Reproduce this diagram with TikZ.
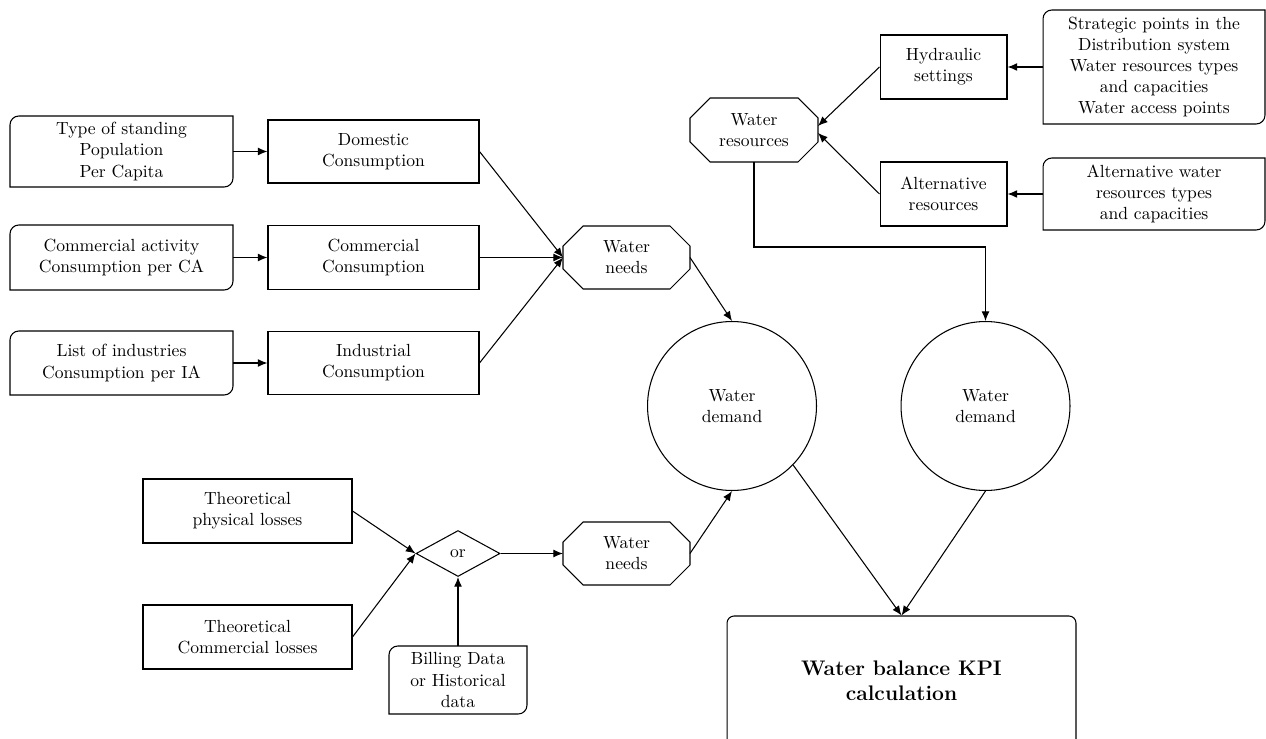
\documentclass[tikz,border=0pt]{standalone}
\usetikzlibrary{arrows.meta,shapes.geometric,calc}
\newcommand\octoborder[1]{%
  \draw[line width=0.6pt] ([xshift=4mm]#1.north west) -- ([xshift=-4mm]#1.north east) -- ([yshift=-4mm]#1.north east) -- ([yshift=4mm]#1.south east) -- ([xshift=-4mm]#1.south east) -- ([xshift=4mm]#1.south west) -- ([yshift=4mm]#1.south west) -- ([yshift=-4mm]#1.north west) -- cycle;}
\newcommand\databorder[1]{%
  \draw[line width=0.6pt,rounded corners=5pt,line cap=rect] (#1.south west) -- (#1.north west) -- (#1.north east) (#1.north east) -- (#1.south east) -- (#1.south west);}
\begin{document}
\begin{tikzpicture}[x=0.02cm,y=-0.02cm,
  box/.style={draw,line width=0.6pt,align=center,inner sep=2pt},
  data/.style={align=center,inner sep=2pt,outer sep=0pt},
  oct/.style={align=center,inner sep=0pt,outer sep=0pt,minimum width=2.54cm,minimum height=1.26cm},
  wd/.style={draw,circle,line width=0.6pt,align=center,minimum size=3.38cm},
  arr/.style={line width=0.6pt,-{Latex[length=5.5pt,width=4.5pt]}}]
\useasboundingbox (0,0) rectangle (1266,739);
% left data column
\node[data,minimum width=4.46cm,minimum height=1.42cm] (tp) at (121.5,151.5) {Type of standing\\Population\\Per Capita};
\node[data,minimum width=4.46cm,minimum height=1.30cm] (ca) at (121.5,257.5) {Commercial activity\\Consumption per CA};
\node[data,minimum width=4.46cm,minimum height=1.28cm] (li) at (121.5,363) {List of industries\\Consumption per IA};
% consumption boxes
\node[box,minimum width=4.22cm,minimum height=1.26cm] (dc) at (373.5,151.5) {Domestic\\Consumption};
\node[box,minimum width=4.22cm,minimum height=1.28cm] (cc) at (373.5,257.5) {Commercial\\Consumption};
\node[box,minimum width=4.22cm,minimum height=1.26cm] (ic) at (373.5,363) {Industrial\\Consumption};
% octagons
\node[oct] (wn1) at (626.5,257.5) {Water\\needs};
\node[oct] (wn2) at (626.5,553.5) {Water\\needs};
\node[oct,minimum width=2.56cm,minimum height=1.28cm] (wr) at (754,130) {Water\\resources};
% top right
\node[box,minimum width=2.54cm,minimum height=1.28cm] (hs) at (943.5,67) {Hydraulic\\settings};
\node[box,minimum width=2.54cm,minimum height=1.28cm] (ar) at (943.5,194) {Alternative\\resources};
\node[data,minimum width=4.44cm,minimum height=2.28cm] (sp) at (1154,67) {Strategic points in the\\Distribution system\\Water resources types\\and capacities\\Water access points};
\node[data,minimum width=4.44cm,minimum height=1.44cm] (aw) at (1154,194) {Alternative water\\resources types\\and capacities};
% circles
\node[wd] (wd1) at (732,406) {Water\\demand};
\node[wd] (wd2) at (985.5,406) {Water\\demand};
% losses
\node[box,minimum width=4.18cm,minimum height=1.28cm] (tpl) at (247.5,511) {Theoretical\\physical losses};
\node[box,minimum width=4.18cm,minimum height=1.28cm] (tcl) at (247.5,637) {Theoretical\\Commercial losses};
\node[draw,diamond,line width=0.6pt,inner sep=0pt,minimum width=1.68cm,minimum height=0.92cm] (or) at (458,553.5) {or};
\node[data,minimum width=2.76cm,minimum height=1.36cm] (bd) at (458,680) {Billing Data\\or Historical\\data};
% KPI
\node[draw,line width=0.6pt,rounded corners=4pt,align=center,minimum width=6.98cm,minimum height=2.6cm,font=\large\bfseries] (kpi) at (901.5,681) {Water balance KPI\\calculation};
% borders
\foreach \n in {tp,ca,li,sp,aw,bd} {\databorder{\n}}
\foreach \n in {wn1,wn2,wr} {\octoborder{\n}}
% connectors
\draw[arr] (tp.east) -- (dc.west);
\draw[arr] (ca.east) -- (cc.west);
\draw[arr] (li.east) -- (ic.west);
\draw[arr] (dc.east) -- (wn1.west);
\draw[arr] (cc.east) -- (wn1.west);
\draw[arr] (ic.east) -- (wn1.west);
\draw[arr] (wn1.east) -- (wd1.north);
\draw[arr] (wn2.east) -- (wd1.south);
\draw[arr] (wd1.-44) -- (kpi.north);
\draw[arr] (wd2.south) -- (kpi.north);
\draw[arr] (wr.south) -- ([yshift=-1.7cm]wr.south) -| (wd2.north);
\draw[arr] (sp.west) -- (hs.east);
\draw[arr] (aw.west) -- (ar.east);
\draw[arr] (hs.west) -- ([yshift=0.8mm]wr.east);
\draw[arr] (ar.west) -- ([yshift=-0.6mm]wr.east);
\draw[arr] (tpl.east) -- (or.west);
\draw[arr] (tcl.east) -- (or.west);
\draw[arr] (bd.north) -- (or.south);
\draw[arr] (or.east) -- (wn2.west);
\end{tikzpicture}
\end{document}
